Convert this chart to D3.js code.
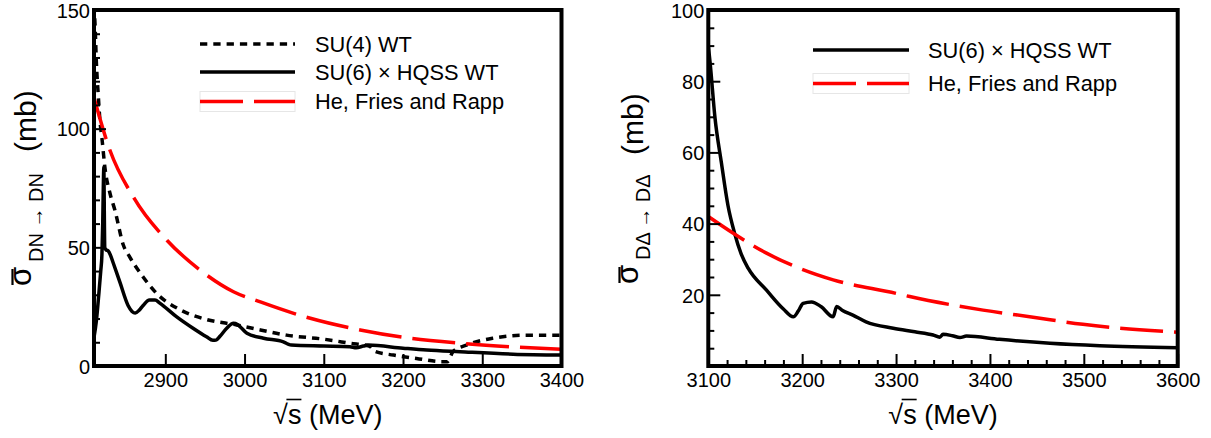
<!DOCTYPE html>
<html><head><meta charset="utf-8">
<script src="https://cdn.jsdelivr.net/npm/d3@7"></script>
<style>
body{margin:0;background:#fff}
svg{display:block}
text{font-family:"Liberation Sans",Arial,Helvetica,sans-serif;fill:#000}
</style>
</head><body>
<svg id="c" width="1211" height="438"></svg>
<script>
// ---------------- data ----------------
const leftLegend = ["SU(4) WT", "SU(6) \u00d7 HQSS WT", "He, Fries and Rapp"];
const rightLegend = ["SU(6) \u00d7 HQSS WT", "He, Fries and Rapp"];

const leftXDomain = [2810, 3400];
const leftYDomain = [0, 150];
const rightXDomain = [3100, 3600];
const rightYDomain = [0, 100];

const leftXTicks = [2900, 3000, 3100, 3200, 3300, 3400];
const leftYTicks = [0, 50, 100, 150];
const rightXTicks = [3100, 3200, 3300, 3400, 3500, 3600];
const rightYTicks = [20, 40, 60, 80, 100];

// [sqrt(s) MeV, sigma mb]
const leftSU4 = [[2810,152],[2811.3,144],[2813,128],[2815.4,114],[2817.6,103],[2820,96],[2824,83],
  [2830,73],[2836.5,65.5],[2847,51],[2855,46],[2872,37.5],[2889,30.6],[2918,23.8],[2952,19.6],
  [2990,17.3],[3020,15.2],[3053,13],[3100,11.3],[3133,9.6],[3158,8.3],[3164,6.2],[3188,4.6],
  [3217,3.2],[3249,1.8],[3256,1.8],[3263,6],[3280,8.8],[3313,11.7],[3356,13],[3400,13]];

const leftSU6 = [[2810,12],[2813,19],[2816,30],[2818.5,40],[2820,47],[2821,60],[2822,80],[2822.5,84],
  [2823,65],[2823.6,50],[2825,49],[2828,48.5],[2831,46.5],[2834.4,43.3],[2843,35],[2853,25.5],
  [2858,23],[2862,22.3],[2867,23.5],[2872,25.5],[2880,27.8],[2887,27.8],[2893,26.5],[2914,20.8],
  [2935,15.9],[2952,12.3],[2960,10.8],[2964,10.9],[2969,12.5],[2977.5,15.9],[2986,18],[2991,17.5],
  [2996,16],[3003,13.8],[3024,11.7],[3049,10.2],[3055,9.2],[3059,8.8],[3100,8.4],[3133,8.1],
  [3141,7.7],[3150,8.4],[3156,8.8],[3200,7.5],[3230,6.7],[3272,6],[3339,5],[3400,4.6]];

const leftHFR = [[2810,113],[2830,91],[2860,71],[2902,53],[2944,40.4],[2986,31.3],[3020,27],
  [3062,22.2],[3083,20.1],[3146,15.2],[3209,11.7],[3272,9.6],[3335,8.1],[3400,7]];

const rightSU6 = [[3100,90],[3102,85],[3107,70],[3114,57],[3121,45],[3128,37.3],[3135,31.5],
  [3142.6,27.4],[3162,21.3],[3180,16],[3190.5,13.8],[3196,15.5],[3201,17.6],[3210,18],[3220,16.7],
  [3233,13.8],[3236.7,16.7],[3243,15.6],[3254,14.3],[3268,12.4],[3297,10.6],[3320,9.6],
  [3339.5,8.7],[3346.6,8.1],[3350,8.9],[3360,8.5],[3368,8],[3375,8.4],[3410,7.5],[3464,6.4],
  [3517,5.7],[3600,5.1]];

const rightHFR = [[3100,42],[3126.6,37.3],[3162,31.7],[3197.6,27.4],[3233,24.2],[3300,20.4],
  [3314.6,19.5],[3392.7,15.7],[3446,13.7],[3499,11.7],[3600,9.5]];

// ---------------- drawing ----------------
const svg = d3.select("#c");
const STYLE = {
  dotted: {stroke:"#000", dash:"7.3,6", width:3.5},
  solid:  {stroke:"#000", dash:null, width:3.5},
  red:    {stroke:"#ff0000", dash:"43,11", width:3.5}
};

function panel(cfg) {
  const x = d3.scaleLinear().domain(cfg.xDomain).range([cfg.left, cfg.right]);
  const y = d3.scaleLinear().domain(cfg.yDomain).range([cfg.bottom, cfg.top]);
  const g = svg.append("g");

  const clipId = "clip" + cfg.id;
  svg.append("clipPath").attr("id", clipId).append("rect")
    .attr("x", cfg.left).attr("y", cfg.top)
    .attr("width", cfg.right - cfg.left).attr("height", cfg.bottom - cfg.top);

  const line = d3.line().x(d => x(d[0])).y(d => y(d[1])).curve(d3.curveMonotoneX);
  const curves = g.append("g").attr("clip-path", `url(#${clipId})`);
  cfg.series.forEach(s => {
    const st = STYLE[s.style];
    curves.append("path").datum(s.data).attr("d", line)
      .attr("fill", "none").attr("stroke", st.stroke).attr("stroke-width", st.width)
      .attr("stroke-dasharray", st.dash).attr("stroke-linejoin", "round");
  });

  // axes
  const xMinor = d3.range(cfg.xDomain[0], cfg.xDomain[1] + 0.01, 20)
    .filter(v => v % 20 === 0 && v % 100 !== 0 && v > cfg.xDomain[0] && v < cfg.xDomain[1]);
  const yMinor = d3.range(cfg.yDomain[0], cfg.yDomain[1] + 0.01, cfg.yMinorStep)
    .filter(v => v % cfg.yMajorStep !== 0);

  g.append("g").attr("transform", `translate(0,${cfg.bottom})`)
    .call(d3.axisBottom(x).tickValues(cfg.xTicks).tickSize(-12).tickPadding(7).tickFormat(d3.format("d")));
  g.append("g").attr("transform", `translate(0,${cfg.bottom})`)
    .call(d3.axisBottom(x).tickValues(xMinor).tickSize(-6).tickFormat(() => ""));
  const ay = g.append("g").attr("transform", `translate(${cfg.left},0)`)
    .call(d3.axisLeft(y).tickValues(cfg.yTicks).tickSize(-12).tickPadding(4).tickFormat(d3.format("d")));
  g.append("g").attr("transform", `translate(${cfg.left},0)`)
    .call(d3.axisLeft(y).tickValues(yMinor).tickSize(-6).tickFormat(() => ""));
  g.selectAll(".domain").remove();
  g.selectAll(".tick line").attr("stroke", "#000").attr("stroke-width", 2);
  g.selectAll(".tick text").style("font-size", "20px").attr("fill", "#000");
  ay.selectAll(".tick text").attr("dy", "0.36em");

  // frame
  g.append("rect").attr("x", cfg.left).attr("y", cfg.top)
    .attr("width", cfg.right - cfg.left).attr("height", cfg.bottom - cfg.top)
    .attr("fill", "none").attr("stroke", "#000").attr("stroke-width", 4);

  // x title: sqrt(s) (MeV)
  const cx = (cfg.left + cfg.right) / 2;
  const xt = g.append("text").attr("x", cx).attr("y", 424).attr("text-anchor", "middle")
    .style("font-size", "27px");
  xt.append("tspan").text("\u221a");
  xt.append("tspan").text("s");
  xt.append("tspan").text(" (MeV)");
  const n = xt.node();
  const r0 = n.getEndPositionOfChar(0).x - 1.5, r1 = n.getEndPositionOfChar(1).x;
  g.append("line").attr("x1", r0).attr("x2", r1).attr("y1", 399.5).attr("y2", 399.5)
    .attr("stroke", "#000").attr("stroke-width", 1.6);

  // y title
  const yg = g.append("g").attr("transform", `translate(${cfg.ylx},${cfg.yly}) rotate(-90)`);
  yg.append("text").attr("x", 0).attr("y", -5).style("font-size", "31px").text("\u03c3");
  yg.append("line").attr("x1", 1).attr("x2", 17).attr("y1", -23.5).attr("y2", -23.5)
    .attr("stroke", "#000").attr("stroke-width", 2.2);
  yg.append("text").attr("x", 24).attr("y", 7).style("font-size", "20px").text(cfg.sub);
  yg.append("text").attr("x", cfg.mbx).attr("y", 0).style("font-size", "30px").text("(mb)");

  // legend
  const lg = g.append("g");
  cfg.legend.forEach((name, i) => {
    const s = cfg.series.find(d => d.name === name);
    const st = STYLE[s.style];
    const yy = cfg.legRows[i];
    if (s.style === "red") {
      lg.append("rect").attr("x", cfg.legX0).attr("y", yy - 10).attr("width", cfg.legX1 - cfg.legX0)
        .attr("height", 20).attr("fill", "none").attr("stroke", "#e6e6e6").attr("stroke-width", 1);
    }
    lg.append("line").attr("x1", cfg.legX0).attr("x2", cfg.legX1).attr("y1", yy).attr("y2", yy)
      .attr("stroke", st.stroke).attr("stroke-width", st.width).attr("stroke-dasharray", st.dash);
    lg.append("text").attr("x", cfg.legTx).attr("y", yy + 7.7).style("font-size", "21.8px").text(name);
  });
}

panel({
  id: "L", left: 94, right: 561.5, top: 10, bottom: 366,
  xDomain: leftXDomain, yDomain: leftYDomain, xTicks: leftXTicks, yTicks: leftYTicks,
  yMinorStep: 10, yMajorStep: 50,
  series: [
    {name: leftLegend[0], data: leftSU4, style: "dotted"},
    {name: leftLegend[1], data: leftSU6, style: "solid"},
    {name: leftLegend[2], data: leftHFR, style: "red"}
  ],
  legend: leftLegend, legRows: [44, 72, 101.5], legX0: 200, legX1: 295, legTx: 315,
  ylx: 36, yly: 286, sub: "DN \u2192 DN", mbx: 134
});

panel({
  id: "R", left: 708.3, right: 1177.7, top: 10, bottom: 366,
  xDomain: rightXDomain, yDomain: rightYDomain, xTicks: rightXTicks, yTicks: rightYTicks,
  yMinorStep: 5, yMajorStep: 20,
  series: [
    {name: rightLegend[0], data: rightSU6, style: "solid"},
    {name: rightLegend[1], data: rightHFR, style: "red"}
  ],
  legend: rightLegend, legRows: [50, 83.5], legX0: 813, legX1: 909, legTx: 928,
  ylx: 643, yly: 284, sub: "D\u0394 \u2192 D\u0394", mbx: 129
});
</script>
</body></html>
